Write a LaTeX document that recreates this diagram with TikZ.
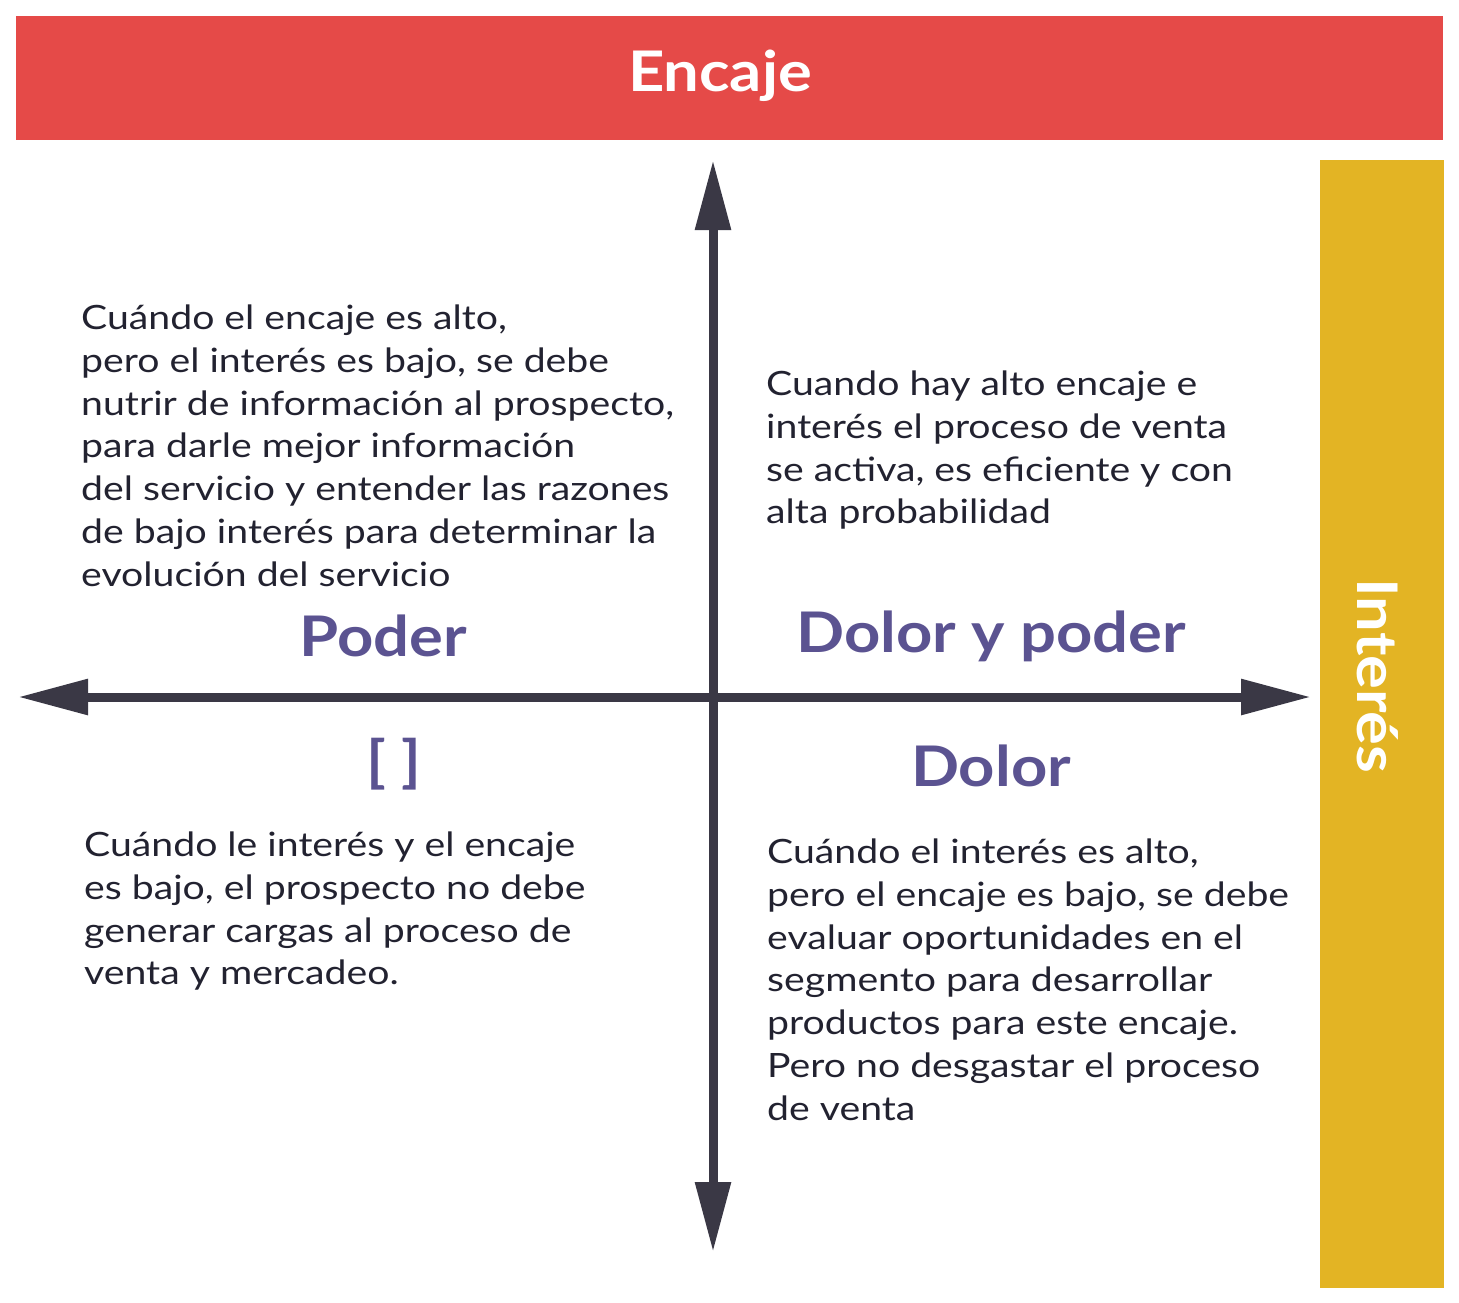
\documentclass[tikz,border=0pt]{standalone}
\usepackage{fontspec}
\setmainfont{Lato}
\newfontfamily\bodyfont{Lato}[FakeStretch=1.17]
\newfontfamily\headfont{Lato}[FakeStretch=1.13]
\usetikzlibrary{arrows.meta}
\definecolor{redbar}{HTML}{E54A48}
\definecolor{yelbar}{HTML}{E3B424}
\definecolor{quad}{HTML}{5B5391}
\definecolor{axis}{HTML}{3A3845}
\definecolor{txt}{HTML}{222230}
\tikzset{
  body/.style={anchor=north west, align=left, inner sep=0pt, text=txt, font=\bodyfont\fontsize{33.5}{42.7}\selectfont},
  qtitle/.style={text=quad, font=\headfont\fontsize{56}{60}\selectfont\bfseries, inner sep=0pt},
  axisline/.style={draw=axis, line width=9pt, {Triangle[length=70pt,width=34pt]}-{Triangle[length=70pt,width=34pt]}}
}
\begin{document}
\begin{tikzpicture}[x=1pt,y=-1pt]
\useasboundingbox (0,0) rectangle (1459,1302);
\fill[redbar] (16,16) rectangle (1443,140);
\node[text=white, font=\headfont\fontsize{56}{60}\selectfont\bfseries] (enc) at (720,76) {Encaje};
\fill[yelbar] (1320,160) rectangle (1444,1288);
\node[text=white, font=\headfont\fontsize{56}{60}\selectfont\bfseries, rotate=-90] (int) at (1378,676) {Interés};
\coordinate (top) at (713,160);
\coordinate (bot) at (713,1252);
\coordinate (lft) at (18,697);
\coordinate (rgt) at (1311,697);
\draw[axisline] (bot) -- (top);
\draw[axisline] (lft) -- (rgt);
\node[body] (t1) at (81,305) {Cuándo el encaje es alto,\\pero el interés es bajo, se debe\\nutrir de información al prospecto,\\para darle mejor información\\del servicio y entender las razones\\de bajo interés para determinar la\\evolución del servicio};
\node[body] (t2) at (766,371) {Cuando hay alto encaje e\\interés el proceso de venta\\se activa, es eficiente y con\\alta probabilidad};
\node[body] (t3) at (84,832) {Cuándo le interés y el encaje\\es bajo, el prospecto no debe\\generar cargas al proceso de\\venta y mercadeo.};
\node[body] (t4) at (767,839) {Cuándo el interés es alto,\\pero el encaje es bajo, se debe\\evaluar oportunidades en el\\segmento para desarrollar\\productos para este encaje.\\Pero no desgastar el proceso\\de venta};
\node[qtitle] (p) at (383,636) {Poder};
\node[qtitle] (dp) at (991,636) {Dolor y poder};
\node[qtitle] (e) at (394,764) {[ ]};
\node[qtitle] (d) at (991,766) {Dolor};
\end{tikzpicture}
\end{document}
